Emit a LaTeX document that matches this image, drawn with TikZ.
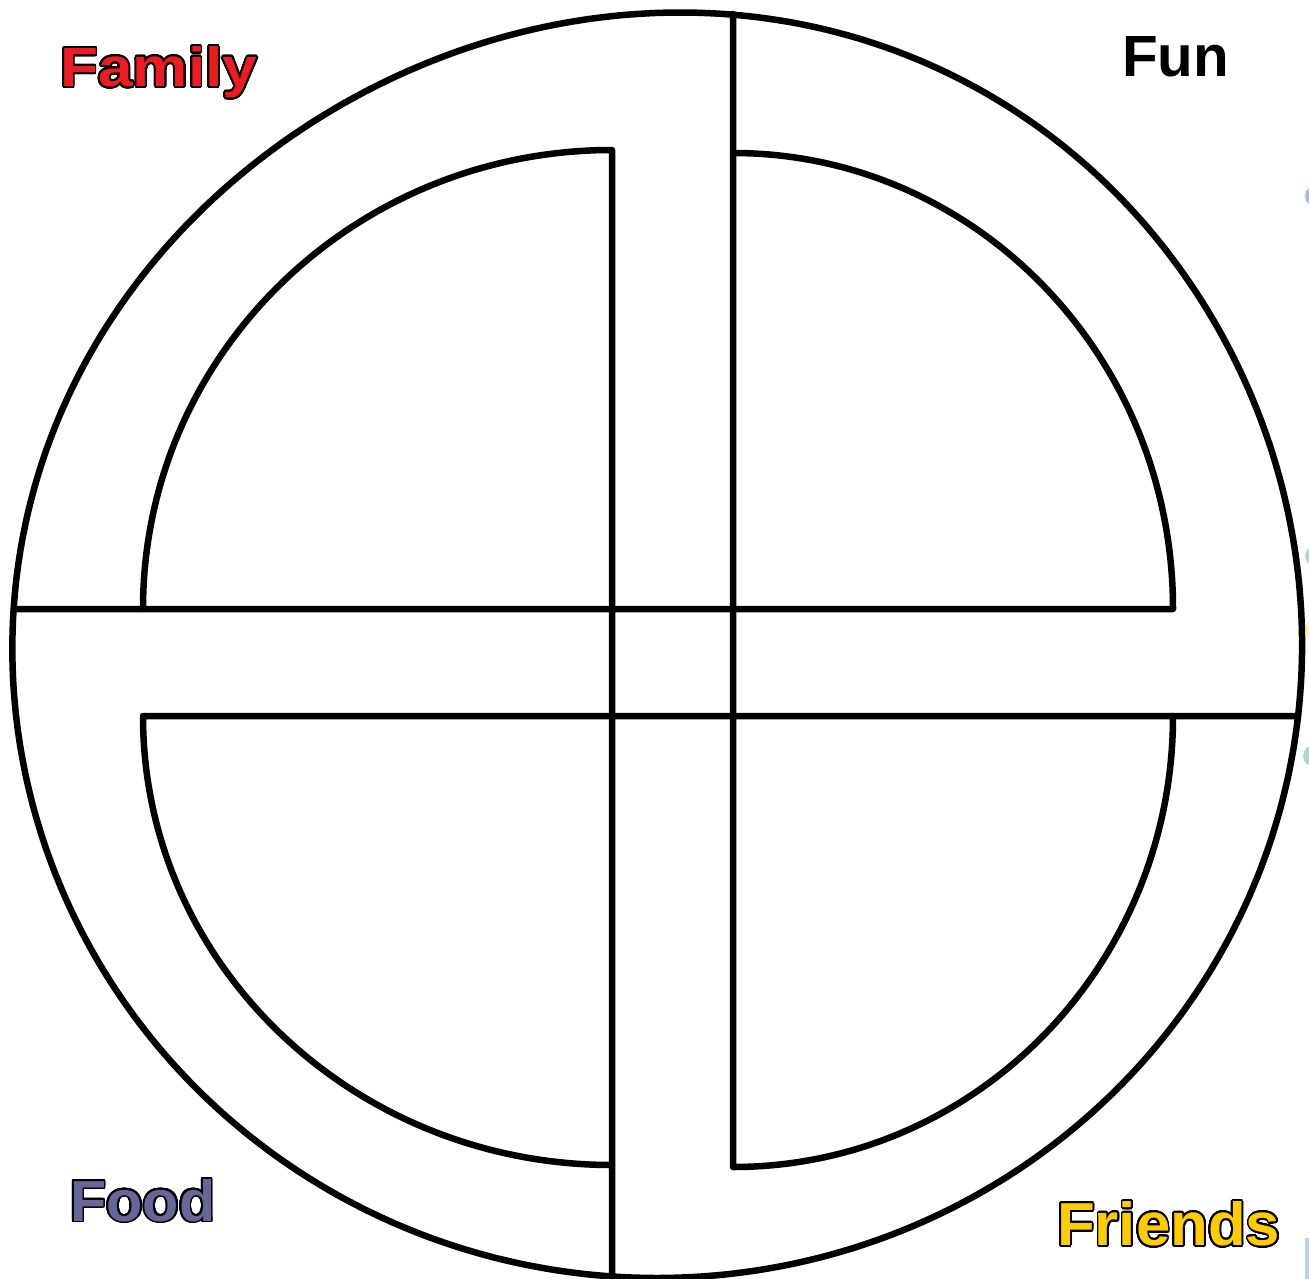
\documentclass[tikz,border=0pt]{standalone}
\usepackage{fontspec}
\setmainfont{Liberation Sans}
\usepackage{graphicx}
\usepackage[copies]{contour}
\contourlength{1.8pt}
\contournumber{24}
\definecolor{famred}{HTML}{ED1C24}
\definecolor{foodblue}{HTML}{666699}
\definecolor{friendyellow}{HTML}{FFCC00}
\definecolor{dotblue}{HTML}{A4BEDF}
\definecolor{dotgreen}{HTML}{A8DCC8}
\definecolor{dotyellow}{HTML}{FFF0A0}
\definecolor{barblue}{HTML}{BCCFE6}
\begin{document}
\begin{tikzpicture}[x=1pt,y=-1pt,
  declare function={pp(\a)=max(\a,0)*max(\a,0)*max(\a,0)*max(\a,0)*max(\a,0)*max(\a,0);
                    dr(\a)=8*pp(cos(\a+62))-9*pp(cos(\a+125));},
  ink/.style={draw=black, line width=6.5pt, line join=round, line cap=round},
  lab/.style={anchor=base west, inner sep=0pt, font=\bfseries}]
\useasboundingbox (0,0) rectangle (1309,1279);
\fill[white] (0,0) rectangle (1309,1279);
% faint marks cut by the right edge
\begin{scope}
\clip (0,0) rectangle (1309,1279);
\fill[dotblue] (1315,196) circle[radius=10];
\fill[dotgreen] (1314,556) circle[radius=9];
\fill[dotyellow] (1315,630) circle[radius=10];
\fill[dotgreen] (1314,756) circle[radius=11];
\fill[barblue] (1305,1238) rectangle (1312,1282);
\end{scope}
% outer ring
\draw[ink] plot[smooth cycle, domain=0:357, samples=120, variable=\t]
  ({657+(645+dr(\t))*cos(\t)}, {646+(632+dr(\t))*sin(\t)});
% named ends
\coordinate (h1a) at (14,609);
\coordinate (h1b) at (1173,609);
\coordinate (tre) at (733,153);
\coordinate (v1a) at (733,14);
\coordinate (v1b) at (733,1167);
\coordinate (bre) at (1173,716);
\coordinate (h2a) at (1298,716);
\coordinate (h2b) at (143,716);
\coordinate (ble) at (612,1165);
\coordinate (v2a) at (612,1277);
\coordinate (v2b) at (612,150);
\coordinate (tle) at (143,609);
% pinwheel arms
\draw[ink] (h1a) -- (h1b) .. controls (1173,357) and (976,153) .. (tre);
\draw[ink] (v1a) -- (v1b) .. controls (976,1167) and (1173,965) .. (bre);
\draw[ink] (h2a) -- (h2b) .. controls (143,964) and (353,1165) .. (ble);
\draw[ink] (v2a) -- (v2b) .. controls (353,150) and (143,355) .. (tle);
% labels
\node[lab, text=famred] (family) at (60,86.5) {\contour{black}{\resizebox{197pt}{40pt}{Family}}};
\node[lab, text=black] (fun) at (1122,77) {\resizebox{107pt}{40pt}{Fun}};
\node[lab, text=foodblue] (food) at (70,1221) {\contour{black}{\resizebox{145pt}{42pt}{Food}}};
\node[lab, text=friendyellow] (friends) at (1057,1245.5) {\contour{black}{\resizebox{223pt}{44pt}{Friends}}};
\end{tikzpicture}
\end{document}
